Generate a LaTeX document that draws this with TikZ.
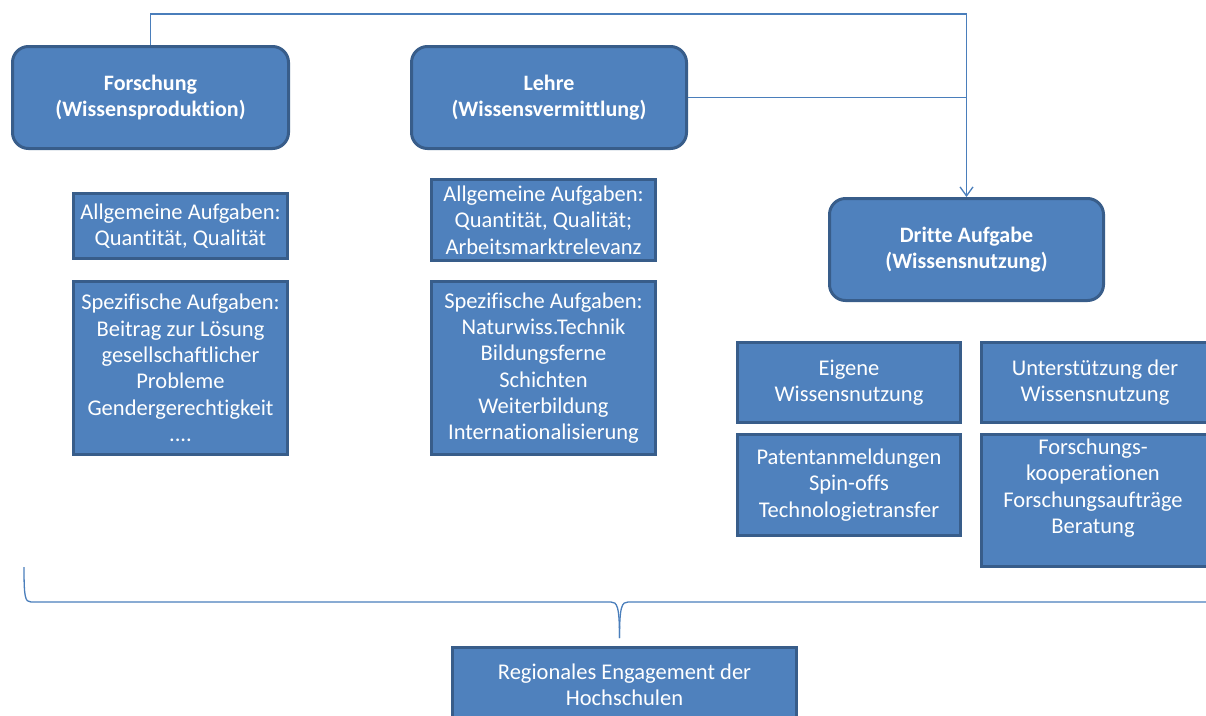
\documentclass[tikz,border=0pt]{standalone}
\usepackage{fontspec}
\setmainfont{Carlito}[Ligatures=CommonOff]
\usetikzlibrary{arrows.meta}
\definecolor{boxfill}{HTML}{4F81BD}
\definecolor{boxline}{HTML}{385D8A}
\definecolor{wire}{HTML}{4A7EBB}
\tikzset{
  box/.style={draw=boxline, line width=3pt, fill=boxfill, text=white,
    align=center, inner sep=2pt, font=\fontsize{22.5}{26.3}\selectfont},
  headbox/.style={box, rounded corners=16pt, font=\bfseries\fontsize{22}{26.3}\selectfont},
  wireline/.style={draw=wire, line width=1.3pt},
  plaintext/.style={text=white, align=center, inner sep=0pt, font=\fontsize{22.5}{26.3}\selectfont}
}
\begin{document}
\begin{tikzpicture}[x=1pt, y=-1pt]
  \useasboundingbox (0,0) rectangle (1206,715);
  \clip (0,0) rectangle (1206,715);

  % main tasks
  \node[headbox, minimum width=276pt, minimum height=102pt] (forsch) at (150.5,97.5)
    {Forschung\\(Wissensproduktion)};
  \node[headbox, minimum width=275pt, minimum height=102pt] (lehre) at (549,97.5)
    {Lehre\\(Wissensvermittlung)};
  \node[headbox, minimum width=274pt, minimum height=102pt] (dritte) at (966.5,249.5)
    {Dritte Aufgabe\\(Wissensnutzung)};

  % research column
  \node[box, minimum width=214pt, minimum height=65pt] (allgF) at (180.5,226)
    {Allgemeine Aufgaben:\\Quantität, Qualität};
  \node[box, minimum width=214pt, minimum height=173pt] (specF) at (180.5,368)
    {Spezifische Aufgaben:\\Beitrag zur Lösung\\gesellschaftlicher\\Probleme\\Gendergerechtigkeit\\....};

  % teaching column
  \node[box, minimum width=224pt, minimum height=81pt] (allgL) at (543.5,220)
    {Allgemeine Aufgaben:\\Quantität, Qualität;\\Arbeitsmarktrelevanz};
  \node[box, minimum width=224pt, minimum height=173pt] (specL) at (543.5,368)
    {Spezifische Aufgaben:\\Naturwiss.Technik\\Bildungsferne\\Schichten\\Weiterbildung\\Internationalisierung};

  % third mission
  \node[box, minimum width=223pt, minimum height=80pt] (eigene) at (849,382.5)
    {Eigene\\Wissensnutzung};
  \node[box, minimum width=228pt, minimum height=80pt] (unter) at (1095,382.5)
    {Unterstützung der\\Wissensnutzung};
  \node[box, minimum width=223pt, minimum height=101pt] (patent) at (849,485)
    {Patentanmeldungen\\Spin-offs\\Technologietransfer};
  \node[box, minimum width=228pt, minimum height=132pt] (koop) at (1095,500.5) {};
  \node[plaintext] (kooptext) at (1093,488)
    {Forschungs-\\kooperationen\\Forschungsaufträge\\Beratung};

  % regional engagement
  \node[box, minimum width=344pt, minimum height=75pt] (regional) at (624.5,684.5)
    {Regionales Engagement der\\Hochschulen};

  % connectors
  \coordinate (top) at (0,14);
  \draw[wireline, -{Straight Barb[length=9pt, width=13pt, line width=1.3pt]}]
    (forsch.north) |- (top -| dritte.north) -- (dritte.north);
  \draw[wireline] (lehre.east) -- (lehre.east -| dritte.north);

  % brace gathering all tasks
  \coordinate (braceL) at (24,567);
  \coordinate (braceTip) at (619.5,638);
  \coordinate (braceR) at (1210,602);
  \draw[wireline] (braceL) .. controls (24,597) and (25,602) .. (31,602)
    -- (611,602) .. controls (617,602) and (619.5,606) .. (braceTip);
  \draw[wireline] (braceTip) .. controls (619.5,606) and (622,602) .. (628,602)
    -- (braceR);
\end{tikzpicture}
\end{document}
